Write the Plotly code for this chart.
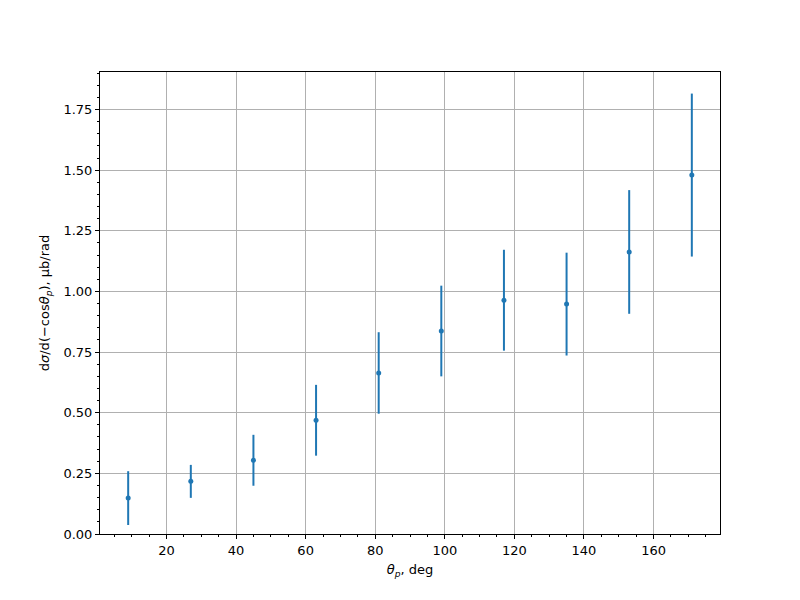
import plotly.graph_objects as go

# scattering angle bins (deg) and cross section values
theta = [9, 27, 45, 63, 81, 99, 117, 135, 153, 171]
dsigma = [0.148, 0.217, 0.304, 0.469, 0.664, 0.837, 0.964, 0.948, 1.163, 1.480]
dsigma_err = [0.111, 0.068, 0.105, 0.146, 0.168, 0.187, 0.208, 0.212, 0.255, 0.336]

fig = go.Figure()
fig.add_trace(go.Scatter(
    x=theta, y=dsigma,
    mode="markers",
    marker=dict(color="#1f77b4", size=5),
    error_y=dict(type="data", array=dsigma_err, color="#1f77b4", thickness=2, width=0),
    showlegend=False,
))

axis_common = dict(
    showline=True, linecolor="black", linewidth=1, mirror=True,
    ticks="outside", ticklen=4, tickcolor="black", tickwidth=1,
    showgrid=True, gridcolor="#b0b0b0", gridwidth=1,
    zeroline=False,
    tickfont=dict(family="DejaVu Sans", size=13, color="black"),
)

fig.update_layout(
    width=800, height=600,
    margin=dict(l=92, r=88, t=64, b=74),
    paper_bgcolor="white", plot_bgcolor="white",
    font=dict(family="DejaVu Sans", size=13, color="black"),
    xaxis=dict(
        range=[0.9, 179.1], tick0=0, dtick=20,
        minor=dict(ticks="outside", ticklen=2, dtick=5, tick0=0, tickcolor="black", showgrid=False),
        title=dict(text="<i>θ</i><sub><i>p</i></sub>, deg", standoff=8,
                   font=dict(family="DejaVu Sans", size=13, color="black")),
        **axis_common,
    ),
    yaxis=dict(
        range=[0, 1.905], tick0=0, dtick=0.25, tickformat=".2f",
        minor=dict(ticks="outside", ticklen=2, dtick=0.05, tick0=0, tickcolor="black", showgrid=False),
        title=dict(text="d<i>σ</i>/d(−cos<i>θ</i><sub><i>p</i></sub>), μb/rad", standoff=10,
                   font=dict(family="DejaVu Sans", size=13, color="black")),
        **axis_common,
    ),
)

fig.write_html("out.html")
